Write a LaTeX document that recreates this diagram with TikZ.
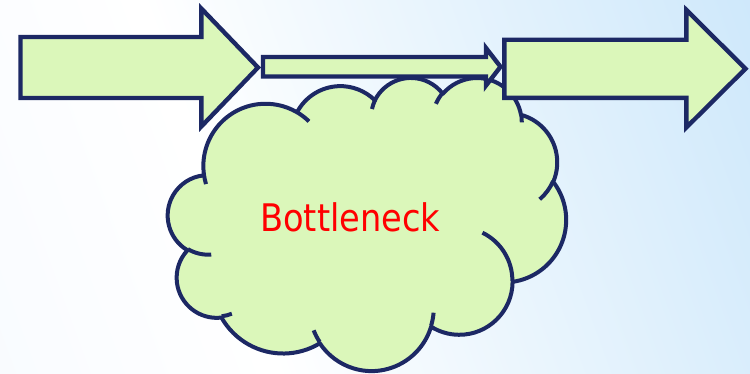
\documentclass[tikz,border=0pt]{standalone}
\usepackage{fontspec}
\usepackage{graphicx}
\setmainfont{DejaVu Sans}
\definecolor{navy}{HTML}{1C2864}
\definecolor{lgreen}{HTML}{DBF7BA}
\definecolor{bgA}{HTML}{F3F8FE}
\definecolor{bgB}{HTML}{BBDFF9}
\definecolor{txtred}{HTML}{FF0000}
\pgfdeclarehorizontalshading{bgsh}{100bp}{color(0bp)=(bgA); color(38bp)=(white); color(100bp)=(bgB)}
\tikzset{
  carc/.style n args={4}{insert path={arc[x radius=#1, y radius=#2,
     start angle={atan2((#1)*sin(#3),(#2)*cos(#3))},
     delta angle={mod(atan2((#1)*sin((#3)+(#4)),(#2)*cos((#3)+(#4)))-atan2((#1)*sin(#3),(#2)*cos(#3))+720,360)}]}},
  shapeline/.style={draw=navy, line width=4.4pt, fill=lgreen, line join=miter, miter limit=10},
  cloudline/.style={draw=navy, line width=4pt, line join=round},
}
\begin{document}
\begin{tikzpicture}[x=1pt,y=-1pt]
\useasboundingbox (0,0) rectangle (750,373);
\shade[shading=bgsh, shading angle=20] (0,0) rectangle (750,373);
% cloud
\begin{scope}[shift={(168,77)}, x={(9.213pt,0pt)}, y={(0pt,-6.7824pt)}]
\coordinate (cs) at (3.900,14.370);
\path[cloudline, fill=lgreen] (cs)
  [carc={6.753}{9.190}{-190.4875}{123.7805}]
  [carc={5.333}{7.267}{-144.1024}{89.9452}]
  [carc={4.365}{5.945}{-145.8079}{99.7230}]
  [carc={4.857}{6.595}{-130.9861}{117.2417}]
  [carc={5.333}{7.273}{-78.7089}{109.0269}]
  [carc={6.775}{9.220}{-46.2673}{130.2690}]
  [carc={5.785}{7.867}{0.6250}{114.0333}]
  [carc={6.752}{9.215}{22.4516}{115.1726}]
  [carc={7.720}{10.543}{66.2426}{75.7110}]
  [carc={4.360}{5.918}{-274.9421}{146.7356}]
  [carc={4.345}{5.945}{-246.8285}{152.5189}]
  -- cycle;
\coordinate (ia) at (4.693,26.177);
\coordinate (ib) at (6.928,34.899);
\coordinate (ic) at (16.478,39.090);
\coordinate (id) at (28.827,34.751);
\coordinate (ie) at (34.129,22.954);
\coordinate (if) at (41.798,15.354);
\coordinate (ig) at (38.324,5.426);
\coordinate (ih) at (29.078,3.952);
\coordinate (ii) at (22.141,4.720);
\coordinate (ij) at (14.000,5.192);
\coordinate (ik) at (4.127,15.789);
\draw[cloudline]
  (ia) [carc={4.345}{5.945}{86.7420}{26.4295}]
  (ib) [carc={4.360}{5.918}{73.6105}{11.4475}]
  (ic) [carc={6.752}{9.215}{137.6242}{14.0811}]
  (id) [carc={6.752}{9.215}{6.4533}{15.9984}]
  (ie) [carc={5.785}{7.867}{-70.2924}{70.9174}]
  (if) [carc={5.333}{7.273}{30.3180}{27.7515}]
  (ig) [carc={4.857}{6.595}{-13.7443}{14.8589}]
  (ih) [carc={4.857}{6.595}{-149.1815}{18.1954}]
  (ii) [carc={4.365}{5.945}{-163.4943}{17.6864}]
  (ij) [carc={6.753}{9.190}{-66.7070}{12.3194}]
  (ik) [carc={6.753}{9.190}{157.6544}{11.8582}];
\end{scope}
\node[anchor=base west, inner sep=0pt, text=txtred, font=\fontsize{38}{40}\selectfont] (label) at (260,231.7) {\scalebox{0.885}[1]{Bottleneck}};
% arrows
\path[shapeline] (20.5,37) -- (201.3,37) -- (201.3,8.5) -- (258,67.5) -- (201.3,126.5) -- (201.3,98) -- (20.5,98) -- cycle;
\path[shapeline] (263,57) -- (486,57) -- (486,48) -- (500.5,66.75) -- (486,85.5) -- (486,76.5) -- (263,76.5) -- cycle;
\path[shapeline] (504.3,39.7) -- (686.3,39.7) -- (686.3,9.9) -- (745.5,68.7) -- (686.3,127.5) -- (686.3,97.8) -- (504.3,97.8) -- cycle;
\end{tikzpicture}
\end{document}
